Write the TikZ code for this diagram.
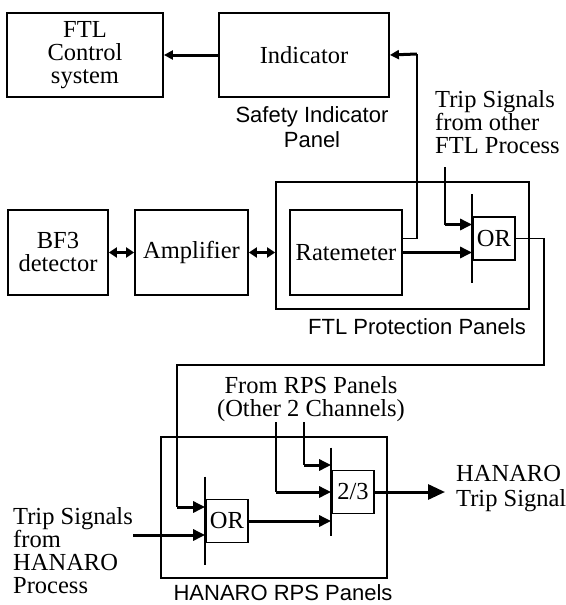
\documentclass[tikz,border=0pt]{standalone}
\usepackage{fontspec}
\setmainfont{Liberation Serif}
\setsansfont{Liberation Sans}
\usetikzlibrary{arrows.meta,calc}

\tikzset{
  blk/.style={draw, line width=1.8pt, inner sep=0pt, align=center, font=\fontsize{24.5}{23}\selectfont},
  gate/.style={blk, minimum width=42pt, minimum height=43pt},
  bar/.style={line width=1.8pt},
  sigline/.style={line width=1.5pt},
  feed/.style={line width=3pt, -{Triangle[length=12pt,width=11pt]}},
  bigfeed/.style={line width=3pt, -{Triangle[length=17pt,width=15pt]}},
  smallfeed/.style={line width=3pt, -{Triangle[length=9pt,width=9pt]}},
  dbl/.style={line width=3pt, {Triangle[length=8pt,width=10pt]}-{Triangle[length=8pt,width=10pt]}},
  lbl/.style={font=\sffamily\fontsize{22}{25}\selectfont, align=center, inner sep=0pt},
  txt/.style={font=\fontsize{24.5}{23}\selectfont, align=left, inner sep=0pt}
}

\begin{document}
\begin{tikzpicture}[x=1pt,y=-1pt]
\useasboundingbox (0,0) rectangle (565,605);

\node[blk, minimum width=156pt, minimum height=84pt] (ctrl) at (85,55) {FTL\\Control\\system};
\node[blk, minimum width=170pt, minimum height=84pt] (ind) at (304,55) {Indicator};
\node[lbl] (sip) at (312,127) {Safety Indicator\\Panel};

\node[blk, minimum width=100pt, minimum height=85pt] (bf3) at (58,252.5) {BF3\\detector};
\node[blk, minimum width=113pt, minimum height=85pt] (amp) at (191.5,252.5) {Amplifier};
\node[blk, minimum width=253pt, minimum height=127pt] (ftlp) at (402.5,245.5) {};
\node[blk, minimum width=112pt, minimum height=85pt] (rate) at (346,252.5) {Ratemeter};
\node[gate] (or1) at (494,238.5) {OR};
\node[lbl] (ftlpl) at (417,327) {FTL Protection Panels};
\node[txt] (tripf) at (435,122) [anchor=west] {Trip Signals\\from other\\FTL Process};

\node[blk, minimum width=226pt, minimum height=141pt] (rps) at (274,507.5) {};
\node[gate] (or2) at (227,521) {OR};
\node[gate] (vote) at (353,492) {2/3};
\node[lbl] (rpsl) at (283,593) {HANARO RPS Panels};
\node[txt] (fromrps) at (311,399) [align=center] {From RPS Panels\\(Other 2 Channels)};
\node[txt] (triph) at (13,551) [anchor=west] {Trip Signals\\from\\HANARO\\Process};
\node[txt, font=\fontsize{24.5}{25}\selectfont] (hout) at (456,489) [anchor=west] {HANARO\\Trip Signal};

\foreach \g in {or1,or2,vote}
  \draw[bar] ([yshift=22pt]\g.north west) -- ([yshift=-22pt]\g.south west);

\coordinate (up) at (417,54);
\coordinate (tf) at (445,167);
\coordinate (r1) at (544,365);
\coordinate (l1) at (177,365);
\coordinate (hs) at (133,535);
\coordinate (p1) at (304,422);
\coordinate (p2) at (276,422);
\coordinate (out) at (445,492);
\coordinate (or1a) at ([yshift=14pt]or1.west);
\coordinate (or1b) at ([yshift=-14pt]or1.west);
\coordinate (or2a) at ([yshift=14pt]or2.west);
\coordinate (or2b) at ([yshift=-14pt]or2.west);
\coordinate (vtA) at ([yshift=27pt]vote.west);

\draw[smallfeed] (ind.west) -- (ctrl.east);
\draw[sigline] ([yshift=14pt]rate.east) -| (up);
\draw[smallfeed] (up) -- (ind.east);
\draw[dbl] (bf3.east) -- (amp.west);
\draw[dbl] (amp.east) -- (amp.east -| ftlp.west);
\draw[sigline] (tf) -- (tf |- or1a);
\draw[feed] (tf |- or1a) -- (or1a);
\draw[feed] (rate.east |- or1b) -- (or1b);
\draw[sigline] (or1.east) -| (r1) -- (l1) -- (l1 |- or2a);
\draw[feed] (l1 |- or2a) -- (or2a);
\draw[feed] (hs |- or2b) -- (or2b);
\draw[feed] (or2.east) -- (or2.east -| vote.west);
\draw[sigline] (p1) -- (p1 |- vtA);
\draw[feed] (p1 |- vtA) -- (vtA);
\draw[sigline] (p2) -- (p2 |- vote.west);
\draw[feed] (p2 |- vote.west) -- (vote.west);
\draw[bigfeed] (vote.east) -- (out);

\end{tikzpicture}
\end{document}
